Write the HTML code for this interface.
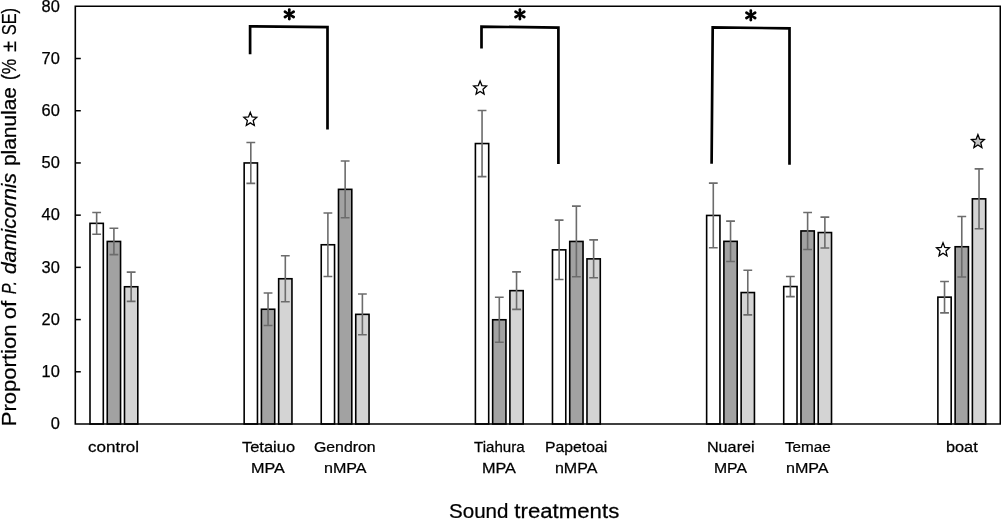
<!DOCTYPE html>
<html><head><meta charset="utf-8"><style>
html,body{margin:0;padding:0;background:#fff;}
body{width:1001px;height:519px;overflow:hidden;}
svg{display:block;font-family:"Liberation Sans",sans-serif;will-change:transform;}
text{stroke:#000;stroke-width:0.25px;}
</style></head><body>
<svg width="1001" height="519" viewBox="0 0 1001 519">
<rect width="1001" height="519" fill="#fff"/>
<rect x="90.00" y="223.35" width="13.3" height="200.65" fill="#ffffff" stroke="#000" stroke-width="1.6"/>
<rect x="107.25" y="241.45" width="13.3" height="182.55" fill="#a2a2a2" stroke="#000" stroke-width="1.6"/>
<rect x="124.50" y="286.75" width="13.3" height="137.25" fill="#d4d4d4" stroke="#000" stroke-width="1.6"/>
<rect x="244.16" y="162.95" width="13.3" height="261.05" fill="#ffffff" stroke="#000" stroke-width="1.6"/>
<rect x="261.41" y="309.25" width="13.3" height="114.75" fill="#a2a2a2" stroke="#000" stroke-width="1.6"/>
<rect x="278.66" y="278.75" width="13.3" height="145.25" fill="#d4d4d4" stroke="#000" stroke-width="1.6"/>
<rect x="321.24" y="244.75" width="13.3" height="179.25" fill="#ffffff" stroke="#000" stroke-width="1.6"/>
<rect x="338.49" y="189.35" width="13.3" height="234.65" fill="#a2a2a2" stroke="#000" stroke-width="1.6"/>
<rect x="355.74" y="314.35" width="13.3" height="109.65" fill="#d4d4d4" stroke="#000" stroke-width="1.6"/>
<rect x="475.40" y="143.55" width="13.3" height="280.45" fill="#ffffff" stroke="#000" stroke-width="1.6"/>
<rect x="492.65" y="319.75" width="13.3" height="104.25" fill="#a2a2a2" stroke="#000" stroke-width="1.6"/>
<rect x="509.90" y="290.65" width="13.3" height="133.35" fill="#d4d4d4" stroke="#000" stroke-width="1.6"/>
<rect x="552.48" y="249.85" width="13.3" height="174.15" fill="#ffffff" stroke="#000" stroke-width="1.6"/>
<rect x="569.73" y="241.45" width="13.3" height="182.55" fill="#a2a2a2" stroke="#000" stroke-width="1.6"/>
<rect x="586.98" y="258.85" width="13.3" height="165.15" fill="#d4d4d4" stroke="#000" stroke-width="1.6"/>
<rect x="706.64" y="215.45" width="13.3" height="208.55" fill="#ffffff" stroke="#000" stroke-width="1.6"/>
<rect x="723.89" y="241.35" width="13.3" height="182.65" fill="#a2a2a2" stroke="#000" stroke-width="1.6"/>
<rect x="741.14" y="292.55" width="13.3" height="131.45" fill="#d4d4d4" stroke="#000" stroke-width="1.6"/>
<rect x="783.72" y="286.55" width="13.3" height="137.45" fill="#ffffff" stroke="#000" stroke-width="1.6"/>
<rect x="800.97" y="230.95" width="13.3" height="193.05" fill="#a2a2a2" stroke="#000" stroke-width="1.6"/>
<rect x="818.22" y="232.55" width="13.3" height="191.45" fill="#d4d4d4" stroke="#000" stroke-width="1.6"/>
<rect x="937.88" y="297.15" width="13.3" height="126.85" fill="#ffffff" stroke="#000" stroke-width="1.6"/>
<rect x="955.13" y="246.75" width="13.3" height="177.25" fill="#a2a2a2" stroke="#000" stroke-width="1.6"/>
<rect x="972.38" y="198.85" width="13.3" height="225.15" fill="#d4d4d4" stroke="#000" stroke-width="1.6"/>
<path d="M96.65 212.45V234.25M92.25 212.45H101.05M92.25 234.25H101.05" stroke="#6c6c6c" stroke-width="1.6" fill="none"/>
<path d="M113.90 228.25V254.65M109.50 228.25H118.30M109.50 254.65H118.30" stroke="#6c6c6c" stroke-width="1.6" fill="none"/>
<path d="M131.15 272.10V301.40M126.75 272.10H135.55M126.75 301.40H135.55" stroke="#6c6c6c" stroke-width="1.6" fill="none"/>
<path d="M250.81 142.55V183.35M246.41 142.55H255.21M246.41 183.35H255.21" stroke="#6c6c6c" stroke-width="1.6" fill="none"/>
<path d="M268.06 292.95V325.55M263.66 292.95H272.46M263.66 325.55H272.46" stroke="#6c6c6c" stroke-width="1.6" fill="none"/>
<path d="M285.31 255.80V301.70M280.91 255.80H289.71M280.91 301.70H289.71" stroke="#6c6c6c" stroke-width="1.6" fill="none"/>
<path d="M327.89 213.05V276.45M323.49 213.05H332.29M323.49 276.45H332.29" stroke="#6c6c6c" stroke-width="1.6" fill="none"/>
<path d="M345.14 160.95V217.75M340.74 160.95H349.54M340.74 217.75H349.54" stroke="#6c6c6c" stroke-width="1.6" fill="none"/>
<path d="M362.39 294.00V334.70M357.99 294.00H366.79M357.99 334.70H366.79" stroke="#6c6c6c" stroke-width="1.6" fill="none"/>
<path d="M482.05 110.50V176.60M477.65 110.50H486.45M477.65 176.60H486.45" stroke="#6c6c6c" stroke-width="1.6" fill="none"/>
<path d="M499.30 297.30V342.20M494.90 297.30H503.70M494.90 342.20H503.70" stroke="#6c6c6c" stroke-width="1.6" fill="none"/>
<path d="M516.55 271.90V309.40M512.15 271.90H520.95M512.15 309.40H520.95" stroke="#6c6c6c" stroke-width="1.6" fill="none"/>
<path d="M559.13 220.15V279.55M554.73 220.15H563.53M554.73 279.55H563.53" stroke="#6c6c6c" stroke-width="1.6" fill="none"/>
<path d="M576.38 206.10V276.80M571.98 206.10H580.78M571.98 276.80H580.78" stroke="#6c6c6c" stroke-width="1.6" fill="none"/>
<path d="M593.63 239.90V277.80M589.23 239.90H598.03M589.23 277.80H598.03" stroke="#6c6c6c" stroke-width="1.6" fill="none"/>
<path d="M713.29 183.10V247.80M708.89 183.10H717.69M708.89 247.80H717.69" stroke="#6c6c6c" stroke-width="1.6" fill="none"/>
<path d="M730.54 221.15V261.55M726.14 221.15H734.94M726.14 261.55H734.94" stroke="#6c6c6c" stroke-width="1.6" fill="none"/>
<path d="M747.79 270.20V314.90M743.39 270.20H752.19M743.39 314.90H752.19" stroke="#6c6c6c" stroke-width="1.6" fill="none"/>
<path d="M790.37 276.45V296.65M785.97 276.45H794.77M785.97 296.65H794.77" stroke="#6c6c6c" stroke-width="1.6" fill="none"/>
<path d="M807.62 212.45V249.45M803.22 212.45H812.02M803.22 249.45H812.02" stroke="#6c6c6c" stroke-width="1.6" fill="none"/>
<path d="M824.87 217.15V247.95M820.47 217.15H829.27M820.47 247.95H829.27" stroke="#6c6c6c" stroke-width="1.6" fill="none"/>
<path d="M944.53 281.45V312.85M940.13 281.45H948.93M940.13 312.85H948.93" stroke="#6c6c6c" stroke-width="1.6" fill="none"/>
<path d="M961.78 216.50V277.00M957.38 216.50H966.18M957.38 277.00H966.18" stroke="#6c6c6c" stroke-width="1.6" fill="none"/>
<path d="M979.03 168.90V228.80M974.63 168.90H983.43M974.63 228.80H983.43" stroke="#6c6c6c" stroke-width="1.6" fill="none"/>
<path d="M75.3 6.3V424.0H1000.3V6.3Z" fill="none" stroke="#000" stroke-width="1.6"/>
<path d="M75.3 371.79H80.8" stroke="#000" stroke-width="1.5"/>
<path d="M75.3 319.58H80.8" stroke="#000" stroke-width="1.5"/>
<path d="M75.3 267.36H80.8" stroke="#000" stroke-width="1.5"/>
<path d="M75.3 215.15H80.8" stroke="#000" stroke-width="1.5"/>
<path d="M75.3 162.94H80.8" stroke="#000" stroke-width="1.5"/>
<path d="M75.3 110.73H80.8" stroke="#000" stroke-width="1.5"/>
<path d="M75.3 58.51H80.8" stroke="#000" stroke-width="1.5"/>
<text x="59.8" y="429.20" text-anchor="end" font-size="16.4">0</text>
<text x="59.8" y="376.99" text-anchor="end" font-size="16.4">10</text>
<text x="59.8" y="324.78" text-anchor="end" font-size="16.4">20</text>
<text x="59.8" y="272.56" text-anchor="end" font-size="16.4">30</text>
<text x="59.8" y="220.35" text-anchor="end" font-size="16.4">40</text>
<text x="59.8" y="168.14" text-anchor="end" font-size="16.4">50</text>
<text x="59.8" y="115.93" text-anchor="end" font-size="16.4">60</text>
<text x="59.8" y="63.71" text-anchor="end" font-size="16.4">70</text>
<text x="59.8" y="11.50" text-anchor="end" font-size="16.4">80</text>
<path d="M250.1 54.3L250.1 26.3L327.5 27.15V129.4" fill="none" stroke="#000" stroke-width="2.7" stroke-linejoin="miter"/>
<path d="M481.5 48.6L481.5 26.6L558.4 27.65V163.9" fill="none" stroke="#000" stroke-width="2.7" stroke-linejoin="miter"/>
<path d="M711.6 163.8L712.7 27.45L789.5 28.3V164.8" fill="none" stroke="#000" stroke-width="2.7" stroke-linejoin="miter"/>
<path d="M290.25 14.40L290.75 9.70A1.45 1.45 0 0 0 287.85 9.70L288.35 14.40ZM288.35 14.40L287.85 19.10A1.45 1.45 0 0 0 290.75 19.10L290.25 14.40ZM289.79 15.21L294.33 13.07A1.45 1.45 0 0 0 292.84 10.58L288.81 13.59ZM288.81 15.21L292.84 18.22A1.45 1.45 0 0 0 294.33 15.73L289.79 13.59ZM289.79 13.59L285.76 10.58A1.45 1.45 0 0 0 284.27 13.07L288.81 15.21ZM288.81 13.59L284.27 15.73A1.45 1.45 0 0 0 285.76 18.22L289.79 15.21Z" fill="#000"/>
<path d="M520.85 14.40L521.35 9.70A1.45 1.45 0 0 0 518.45 9.70L518.95 14.40ZM518.95 14.40L518.45 19.10A1.45 1.45 0 0 0 521.35 19.10L520.85 14.40ZM520.39 15.21L524.93 13.07A1.45 1.45 0 0 0 523.44 10.58L519.41 13.59ZM519.41 15.21L523.44 18.22A1.45 1.45 0 0 0 524.93 15.73L520.39 13.59ZM520.39 13.59L516.36 10.58A1.45 1.45 0 0 0 514.87 13.07L519.41 15.21ZM519.41 13.59L514.87 15.73A1.45 1.45 0 0 0 516.36 18.22L520.39 15.21Z" fill="#000"/>
<path d="M751.75 15.40L752.25 10.70A1.45 1.45 0 0 0 749.35 10.70L749.85 15.40ZM749.85 15.40L749.35 20.10A1.45 1.45 0 0 0 752.25 20.10L751.75 15.40ZM751.29 16.21L755.83 14.07A1.45 1.45 0 0 0 754.34 11.58L750.31 14.59ZM750.31 16.21L754.34 19.22A1.45 1.45 0 0 0 755.83 16.73L751.29 14.59ZM751.29 14.59L747.26 11.58A1.45 1.45 0 0 0 745.77 14.07L750.31 16.21ZM750.31 14.59L745.77 16.73A1.45 1.45 0 0 0 747.26 19.22L751.29 16.21Z" fill="#000"/>
<polygon points="250.30,112.39 252.10,116.98 256.77,117.37 253.21,120.60 254.30,125.43 250.30,122.84 246.30,125.43 247.39,120.60 243.83,117.37 248.50,116.98" fill="#fff" stroke="#000" stroke-width="1.3" stroke-linejoin="miter"/>
<polygon points="480.10,80.99 481.90,85.58 486.57,85.97 483.01,89.20 484.10,94.03 480.10,91.44 476.10,94.03 477.19,89.20 473.63,85.97 478.30,85.58" fill="#fff" stroke="#000" stroke-width="1.3" stroke-linejoin="miter"/>
<polygon points="943.00,242.79 944.80,247.38 949.47,247.77 945.91,251.00 947.00,255.83 943.00,253.24 939.00,255.83 940.09,251.00 936.53,247.77 941.20,247.38" fill="#fff" stroke="#000" stroke-width="1.3" stroke-linejoin="miter"/>
<polygon points="977.90,134.59 979.70,139.18 984.37,139.57 980.81,142.80 981.90,147.63 977.90,145.04 973.90,147.63 974.99,142.80 971.43,139.57 976.10,139.18" fill="#c2c2c2" stroke="#000" stroke-width="1.3" stroke-linejoin="miter"/>
<text transform="translate(87.93,451.6) scale(1.1003,1)" font-size="15.5">control</text>
<text transform="translate(241.95,451.6) scale(1.0643,1)" font-size="15.5">Tetaiuo</text>
<text transform="translate(250.92,472.9) scale(1.0447,1)" font-size="15.5">MPA</text>
<text transform="translate(313.97,451.6) scale(1.0228,1)" font-size="15.5">Gendron</text>
<text transform="translate(323.93,472.9) scale(1.0389,1)" font-size="15.5">nMPA</text>
<text transform="translate(473.98,451.6) scale(0.9751,1)" font-size="15.5">Tiahura</text>
<text transform="translate(481.89,472.9) scale(1.0516,1)" font-size="15.5">MPA</text>
<text transform="translate(544.96,451.6) scale(1.0200,1)" font-size="15.5">Papetoai</text>
<text transform="translate(554.94,472.9) scale(1.0342,1)" font-size="15.5">nMPA</text>
<text transform="translate(706.92,451.6) scale(1.0459,1)" font-size="15.5">Nuarei</text>
<text transform="translate(713.93,472.9) scale(1.0188,1)" font-size="15.5">MPA</text>
<text transform="translate(784.98,451.6) scale(0.9862,1)" font-size="15.5">Temae</text>
<text transform="translate(785.95,472.9) scale(1.0389,1)" font-size="15.5">nMPA</text>
<text transform="translate(945.88,451.6) scale(1.0556,1)" font-size="15.5">boat</text>
<text transform="translate(449.02,518.4) scale(0.9782,1)" font-size="21.0">Sound</text>
<text transform="translate(514.33,518.4) scale(1.0580,1)" font-size="21.0">treatments</text>
<text transform="translate(15.9,426.23) rotate(-90) scale(1.1141,1)" font-size="19.8">Proportion</text>
<text transform="translate(15.9,319.20) rotate(-90) scale(1.1169,1)" font-size="19.8">of</text>
<text transform="translate(15.9,294.15) rotate(-90) scale(0.8208,1)" font-size="19.8" font-style="italic">P.</text>
<text transform="translate(15.9,274.07) rotate(-90) scale(1.0551,1)" font-size="19.8" font-style="italic">damicornis</text>
<text transform="translate(15.9,166.11) rotate(-90) scale(1.0570,1)" font-size="19.8">planulae</text>
<text transform="translate(15.9,79.92) rotate(-90) scale(0.8753,1)" font-size="19.8">(%</text>
<text transform="translate(15.9,51.67) rotate(-90) scale(0.9845,1)" font-size="19.8">±</text>
<text transform="translate(15.9,35.22) rotate(-90) scale(0.8279,1)" font-size="19.8">SE)</text>
</svg>
</body></html>
